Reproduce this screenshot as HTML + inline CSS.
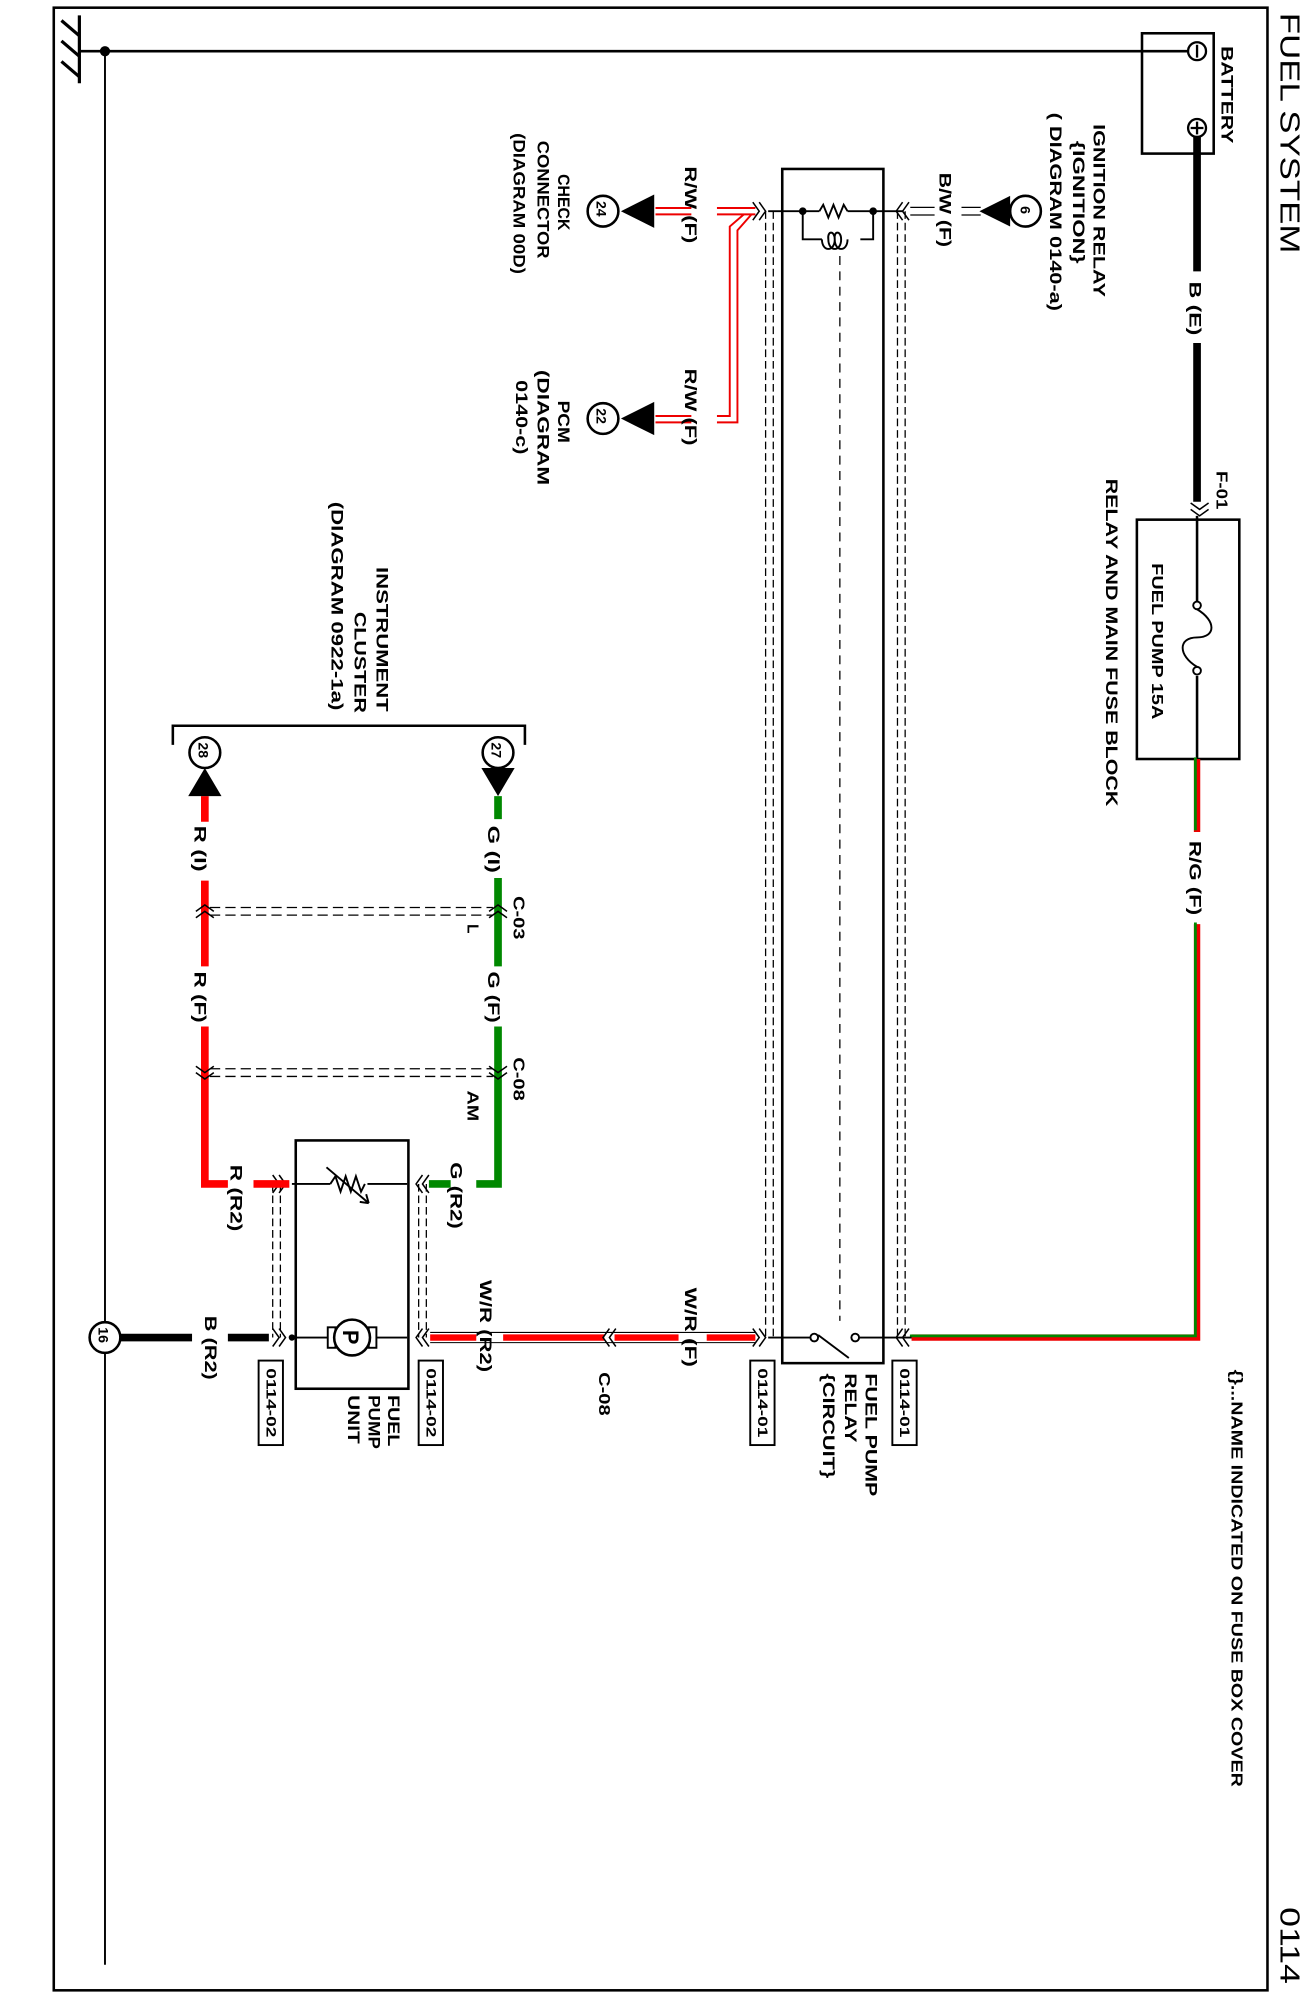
<!DOCTYPE html>
<html><head><meta charset="utf-8"><style>
html,body{margin:0;padding:0;background:#fff}
svg{display:block}
text{font-family:"Liberation Sans",sans-serif;font-weight:bold;fill:#000}
</style></head><body>
<svg width="1311" height="1998" viewBox="0 0 1024 1561" preserveAspectRatio="none" xmlns="http://www.w3.org/2000/svg">
<defs>
<g id="chev"><path d="M-5,-7 L0,0 L-5,7 M0,-7 L5,0 L0,7" fill="none" stroke="#000" stroke-width="1.2"/></g>
</defs>
<rect x="42" y="6" width="948" height="1549" fill="none" stroke="#000" stroke-width="2"/>
<line x1="62" y1="12" x2="62" y2="65" stroke="#000" stroke-width="2.5"/>
<path d="M48,16 L62,28 M48,32 L62,44 M48,48 L62,60" stroke="#000" stroke-width="2.5"/>
<line x1="62" y1="40" x2="935" y2="40" stroke="#000" stroke-width="2"/>
<circle cx="82" cy="40" r="4" fill="#000"/>
<line x1="82" y1="40" x2="82" y2="1535" stroke="#000" stroke-width="1.5"/>
<rect x="892" y="26" width="56" height="94" fill="none" stroke="#000" stroke-width="2"/>
<circle cx="935" cy="40" r="7" fill="#fff" stroke="#000" stroke-width="1.8"/>
<line x1="935" y1="35" x2="935" y2="45" stroke="#000" stroke-width="1.8"/>
<circle cx="935" cy="100" r="7" fill="#fff" stroke="#000" stroke-width="1.8"/>
<path d="M935,95 V105 M930,100 H940" stroke="#000" stroke-width="1.8"/>
<text transform="translate(954,36) rotate(90)" font-size="13" textLength="76" lengthAdjust="spacingAndGlyphs">BATTERY</text>
<text transform="translate(1000,10) rotate(90)" font-size="22" textLength="188" lengthAdjust="spacingAndGlyphs" style="font-weight:normal">FUEL SYSTEM</text>
<text transform="translate(1000,1490) rotate(90)" font-size="22" textLength="60" lengthAdjust="spacingAndGlyphs" style="font-weight:normal">0114</text>
<text transform="translate(962,1070) rotate(90)" font-size="12" textLength="326" lengthAdjust="spacingAndGlyphs">{}...NAME INDICATED ON FUSE BOX COVER</text>
<line x1="935" y1="107" x2="935" y2="212" stroke="#000" stroke-width="6"/>
<line x1="935" y1="268" x2="935" y2="392" stroke="#000" stroke-width="6"/>
<text transform="translate(929,220) rotate(90)" font-size="13" textLength="42" lengthAdjust="spacingAndGlyphs">B (E)</text>
<use href="#chev" transform="translate(937,398) rotate(90)"/>
<text transform="translate(950,368) rotate(90)" font-size="12" textLength="30" lengthAdjust="spacingAndGlyphs">F-01</text>
<rect x="888" y="406" width="80" height="187" fill="none" stroke="#000" stroke-width="2"/>
<line x1="935" y1="403" x2="935" y2="470" stroke="#000" stroke-width="2"/>
<line x1="935" y1="528" x2="935" y2="593" stroke="#000" stroke-width="2"/>
<circle cx="935" cy="473" r="3" fill="#fff" stroke="#000" stroke-width="1.5"/>
<circle cx="935" cy="524" r="3" fill="#fff" stroke="#000" stroke-width="1.5"/>
<path d="M935,476 C950,485 950,498 935,498 C920,498 920,512 935,521" fill="none" stroke="#000" stroke-width="1.5"/>
<text transform="translate(900,440) rotate(90)" font-size="12" textLength="122" lengthAdjust="spacingAndGlyphs">FUEL PUMP  15A</text>
<text transform="translate(864,374) rotate(90)" font-size="13" textLength="256" lengthAdjust="spacingAndGlyphs">RELAY AND MAIN FUSE BLOCK</text>
<path d="M935,593 V650 M935,722 V1045 H712" fill="none" stroke="#e00" stroke-width="5"/>
<path d="M935,593 V650 M935,722 V1045 H712" fill="none" stroke="#080" stroke-width="2.2" transform="translate(-1.3,-1.3)"/>
<text transform="translate(929,657) rotate(90)" font-size="13" textLength="58" lengthAdjust="spacingAndGlyphs">R/G (F)</text>
<rect x="611" y="132" width="79" height="933" fill="none" stroke="#000" stroke-width="2"/>
<line x1="656" y1="200" x2="656" y2="1032" stroke="#000" stroke-width="1" stroke-dasharray="7,5"/>
<path d="M598,165 V1045 M604,165 V1045 M701,165 V1045 M707,165 V1045" stroke="#000" stroke-width="1" stroke-dasharray="6,3"/>
<line x1="600" y1="165" x2="640" y2="165" stroke="#000" stroke-width="1.5"/>
<path d="M640,165 l3,-5 l4,10 l4,-10 l4,10 l4,-10 l3,5" fill="none" stroke="#000" stroke-width="1.5"/>
<line x1="662" y1="165" x2="705" y2="165" stroke="#000" stroke-width="1.5"/>
<circle cx="627" cy="165" r="3" fill="#000"/><circle cx="682" cy="165" r="3" fill="#000"/>
<path d="M627,165 V187 H642 M672,187 H682 V165" fill="none" stroke="#000" stroke-width="1.5"/>
<path d="M642,187 c0,10 10,10 10,0 c0,-7 -6,-7 -5,0 c0,10 10,10 10,0 c0,-7 -6,-7 -5,0 c0,10 10,10 10,0" fill="none" stroke="#000" stroke-width="1.5"/>
<use href="#chev" transform="translate(705,165) rotate(180)"/>
<path d="M711,162 H730 M711,168 H730 M751,162 H766 M751,168 H766" stroke="#000" stroke-width="1"/>
<text transform="translate(734,135) rotate(90)" font-size="13" textLength="58" lengthAdjust="spacingAndGlyphs">B/W (F)</text>
<polygon points="765,165 789,153 789,177" fill="#000"/>
<circle cx="801" cy="165" r="12" fill="#fff" stroke="#000" stroke-width="2"/>
<text transform="translate(797,161) rotate(90)" font-size="11">6</text>
<text transform="translate(854,97) rotate(90)" font-size="13" textLength="135" lengthAdjust="spacingAndGlyphs">IGNITION RELAY</text>
<text transform="translate(838,110) rotate(90)" font-size="13" textLength="96" lengthAdjust="spacingAndGlyphs">{IGNITION}</text>
<text transform="translate(820,88) rotate(90)" font-size="13" textLength="155" lengthAdjust="spacingAndGlyphs">( DIAGRAM 0140-a)</text>
<use href="#chev" transform="translate(593,165)"/>
<g fill="none" stroke="#e00" stroke-width="1.5">
<path d="M590,162.5 H560 M540,162.5 H512 M590,167.5 H560 M540,167.5 H512"/>
<path d="M581,167.5 L570,177 V325 H560 M587,167.5 L576,180 V330 H560 M540,325 H512 M540,330 H512"/>
</g>
<text transform="translate(535,130) rotate(90)" font-size="13" textLength="60" lengthAdjust="spacingAndGlyphs">R/W (F)</text>
<text transform="translate(535,288) rotate(90)" font-size="13" textLength="60" lengthAdjust="spacingAndGlyphs">R/W (F)</text>
<polygon points="485,165 511,152 511,178" fill="#000"/>
<circle cx="471" cy="165" r="12" fill="#fff" stroke="#000" stroke-width="2"/>
<text transform="translate(466,157) rotate(90)" font-size="11">24</text>
<polygon points="485,327 511,314 511,340" fill="#000"/>
<circle cx="471" cy="327" r="12" fill="#fff" stroke="#000" stroke-width="2"/>
<text transform="translate(466,319) rotate(90)" font-size="11">22</text>
<text transform="translate(436,136) rotate(90)" font-size="13" textLength="44" lengthAdjust="spacingAndGlyphs">CHECK</text>
<text transform="translate(420,110) rotate(90)" font-size="13" textLength="92" lengthAdjust="spacingAndGlyphs">CONNECTOR</text>
<text transform="translate(401,104) rotate(90)" font-size="13" textLength="110" lengthAdjust="spacingAndGlyphs">(DIAGRAM  00D)</text>
<text transform="translate(436,313) rotate(90)" font-size="13" textLength="33" lengthAdjust="spacingAndGlyphs">PCM</text>
<text transform="translate(420,289) rotate(90)" font-size="13" textLength="90" lengthAdjust="spacingAndGlyphs">(DIAGRAM</text>
<text transform="translate(403,297) rotate(90)" font-size="13" textLength="58" lengthAdjust="spacingAndGlyphs">0140-c)</text>
<path d="M600,1045 H633 M670,1045 H712" stroke="#000" stroke-width="1.5"/>
<circle cx="636" cy="1045" r="3" fill="#fff" stroke="#000" stroke-width="1.5"/>
<circle cx="668" cy="1045" r="3" fill="#fff" stroke="#000" stroke-width="1.5"/>
<line x1="639" y1="1043" x2="663" y2="1061" stroke="#000" stroke-width="1.5"/>
<use href="#chev" transform="translate(705,1045) rotate(180)"/>
<text transform="translate(676,1073) rotate(90)" font-size="13" textLength="96" lengthAdjust="spacingAndGlyphs">FUEL PUMP</text>
<text transform="translate(660,1073) rotate(90)" font-size="13" textLength="54" lengthAdjust="spacingAndGlyphs">RELAY</text>
<text transform="translate(643,1073) rotate(90)" font-size="13" textLength="82" lengthAdjust="spacingAndGlyphs">{CIRCUIT}</text>
<rect x="697" y="1063" width="19" height="66" fill="#fff" stroke="#000" stroke-width="1.5"/>
<text transform="translate(703,1069) rotate(90)" font-size="11" textLength="54" lengthAdjust="spacingAndGlyphs">0114-01</text>
<rect x="586" y="1063" width="19" height="66" fill="#fff" stroke="#000" stroke-width="1.5"/>
<text transform="translate(592,1069) rotate(90)" font-size="11" textLength="54" lengthAdjust="spacingAndGlyphs">0114-01</text>
<use href="#chev" transform="translate(593,1045)"/>
<g stroke="#000" stroke-width="0.8"><path d="M336,1041 H590 M336,1049 H590"/></g>
<path d="M336,1045 H372 M393,1045 H472 M480,1045 H530 M552,1045 H590" stroke="#f00" stroke-width="5"/>
<use href="#chev" transform="translate(476,1045) rotate(180)"/>
<text transform="translate(468,1072) rotate(90)" font-size="12" textLength="34" lengthAdjust="spacingAndGlyphs">C-08</text>
<text transform="translate(375,1000) rotate(90)" font-size="13" textLength="72" lengthAdjust="spacingAndGlyphs">W/R (R2)</text>
<text transform="translate(535,1006) rotate(90)" font-size="13" textLength="62" lengthAdjust="spacingAndGlyphs">W/R (F)</text>
<rect x="231" y="891" width="88" height="194" fill="none" stroke="#000" stroke-width="2"/>
<path d="M228,925 H258 M287,925 H318" stroke="#000" stroke-width="1.5"/>
<path d="M258,925 l4,-6 l4,12 l4,-12 l4,12 l4,-12 l4,12 l3,-6" fill="none" stroke="#000" stroke-width="1.5"/>
<path d="M255,912 L288,940 M288,940 l-7,-1 M288,940 l-2,-7" stroke="#000" stroke-width="1.5" fill="none"/>
<path d="M228,1045 H262 M288,1045 H318" stroke="#000" stroke-width="1.5"/>
<circle cx="228" cy="1045" r="2.5" fill="#000"/>
<rect x="256" y="1037" width="6" height="16" fill="#fff" stroke="#000" stroke-width="1.5"/>
<rect x="288" y="1037" width="6" height="16" fill="#fff" stroke="#000" stroke-width="1.5"/>
<circle cx="275" cy="1045" r="14" fill="#fff" stroke="#000" stroke-width="2"/>
<text transform="translate(268,1039) rotate(90)" font-size="17">P</text>
<text transform="translate(303,1090) rotate(90)" font-size="13" textLength="40" lengthAdjust="spacingAndGlyphs">FUEL</text>
<text transform="translate(288,1090) rotate(90)" font-size="13" textLength="42" lengthAdjust="spacingAndGlyphs">PUMP</text>
<text transform="translate(272,1090) rotate(90)" font-size="13" textLength="38" lengthAdjust="spacingAndGlyphs">UNIT</text>
<path d="M213,925 V1045 M219,925 V1045 M327,925 V1045 M333,925 V1045" stroke="#000" stroke-width="1" stroke-dasharray="6,3"/>
<use href="#chev" transform="translate(330,925) rotate(180)"/>
<use href="#chev" transform="translate(330,1045) rotate(180)"/>
<use href="#chev" transform="translate(218,925)"/>
<use href="#chev" transform="translate(218,1045)"/>
<rect x="327" y="1063" width="19" height="66" fill="#fff" stroke="#000" stroke-width="1.5"/>
<text transform="translate(333,1069) rotate(90)" font-size="11" textLength="54" lengthAdjust="spacingAndGlyphs">0114-02</text>
<rect x="202" y="1063" width="19" height="66" fill="#fff" stroke="#000" stroke-width="1.5"/>
<text transform="translate(208,1069) rotate(90)" font-size="11" textLength="54" lengthAdjust="spacingAndGlyphs">0114-02</text>
<path d="M94,1045 H150 M178,1045 H210" stroke="#000" stroke-width="6"/>
<text transform="translate(160,1028) rotate(90)" font-size="13" textLength="50" lengthAdjust="spacingAndGlyphs">B (R2)</text>
<circle cx="82" cy="1045" r="12" fill="#fff" stroke="#000" stroke-width="2"/>
<text transform="translate(77,1037) rotate(90)" font-size="11">16</text>
<path d="M389,622 V640 M389,686 V755 M389,802 V925 H372 M335,925 H352" fill="none" stroke="#080" stroke-width="6"/>
<text transform="translate(381,645) rotate(90)" font-size="13" textLength="37" lengthAdjust="spacingAndGlyphs">G (I)</text>
<text transform="translate(381,759) rotate(90)" font-size="13" textLength="40" lengthAdjust="spacingAndGlyphs">G (F)</text>
<text transform="translate(352,908) rotate(90)" font-size="13" textLength="52" lengthAdjust="spacingAndGlyphs">G (R2)</text>
<path d="M160,622 V642 M160,688 V755 M160,802 V925 H178 M198,925 H226" fill="none" stroke="#f00" stroke-width="6"/>
<text transform="translate(152,645) rotate(90)" font-size="13" textLength="36" lengthAdjust="spacingAndGlyphs">R (I)</text>
<text transform="translate(152,759) rotate(90)" font-size="13" textLength="40" lengthAdjust="spacingAndGlyphs">R (F)</text>
<text transform="translate(180,910) rotate(90)" font-size="13" textLength="52" lengthAdjust="spacingAndGlyphs">R (R2)</text>
<path d="M164,709 H385 M164,715 H385 M164,835 H385 M164,841 H385" stroke="#000" stroke-width="1" stroke-dasharray="8,4"/>
<use href="#chev" transform="translate(160,712) rotate(-90)"/>
<use href="#chev" transform="translate(389,712) rotate(-90)"/>
<use href="#chev" transform="translate(160,838) rotate(90)"/>
<use href="#chev" transform="translate(389,838) rotate(90)"/>
<text transform="translate(401,700) rotate(90)" font-size="12" textLength="34" lengthAdjust="spacingAndGlyphs">C-03</text>
<text transform="translate(365,722) rotate(90)" font-size="12">L</text>
<text transform="translate(401,826) rotate(90)" font-size="12" textLength="34" lengthAdjust="spacingAndGlyphs">C-08</text>
<text transform="translate(365,852) rotate(90)" font-size="12" textLength="24" lengthAdjust="spacingAndGlyphs">AM</text>
<path d="M135,582 V567 H410 V582" fill="none" stroke="#000" stroke-width="2"/>
<polygon points="389,622 376,600 402,600" fill="#000"/>
<circle cx="389" cy="588" r="12" fill="#fff" stroke="#000" stroke-width="2"/>
<text transform="translate(384,580) rotate(90)" font-size="11">27</text>
<polygon points="160,600 147,622 173,622" fill="#000"/>
<circle cx="160" cy="588" r="12" fill="#fff" stroke="#000" stroke-width="2"/>
<text transform="translate(155,580) rotate(90)" font-size="11">28</text>
<text transform="translate(294,443) rotate(90)" font-size="13" textLength="113" lengthAdjust="spacingAndGlyphs">INSTRUMENT</text>
<text transform="translate(277,478) rotate(90)" font-size="13" textLength="79" lengthAdjust="spacingAndGlyphs">CLUSTER</text>
<text transform="translate(259,392) rotate(90)" font-size="13" textLength="163" lengthAdjust="spacingAndGlyphs">(DIAGRAM 0922-1a)</text>
</svg>
</body></html>
